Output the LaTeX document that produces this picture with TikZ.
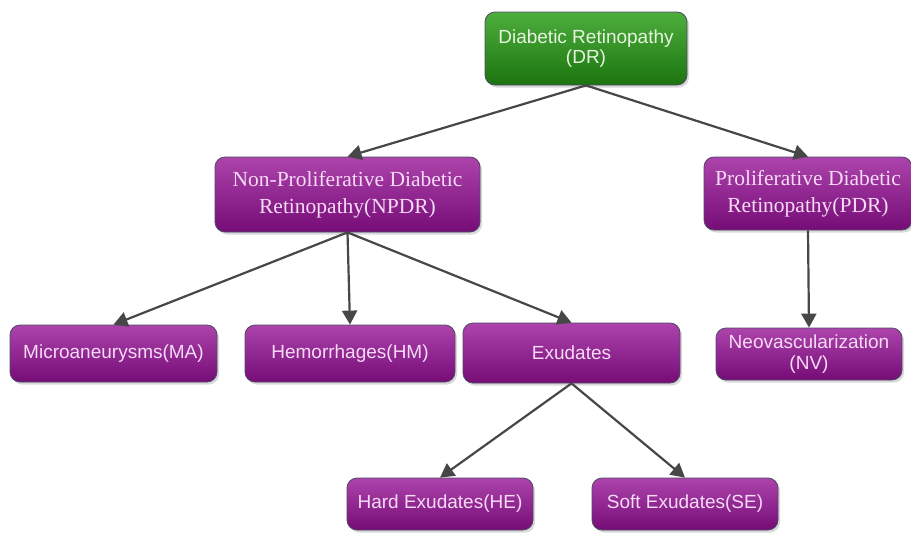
\documentclass[tikz,border=0pt]{standalone}
\usepackage{fontspec}
\setmainfont{Liberation Serif}
\setsansfont{Liberation Sans}
\usepackage{tikz}
\usetikzlibrary{
	arrows.meta,
	shadows
}

\definecolor{greentop}{HTML}{4DAE3C}
\definecolor{greenbot}{HTML}{1C7410}
\definecolor{purpletop}{HTML}{AC44AC}
\definecolor{purplebot}{HTML}{760C76}
\definecolor{pinktext}{HTML}{F6DAF6}
\definecolor{greentext}{HTML}{E6F4E0}
\definecolor{boxline}{HTML}{4E4A66}
\definecolor{linkgray}{HTML}{474747}

\tikzset{
	box/.style={draw=boxline, line width=0.8pt, rounded corners=10pt,
		inner sep=0pt, align=center,
		drop shadow={shadow xshift=2pt, shadow yshift=-2.5pt, opacity=.3}},
	root/.style={box, top color=greentop, bottom color=greenbot, text=greentext,
		font=\sffamily\fontsize{19}{20.5}\selectfont},
	stage/.style={box, top color=purpletop, bottom color=purplebot, text=pinktext,
		font=\rmfamily\fontsize{21.5}{27}\selectfont},
	lesion/.style={box, top color=purpletop, bottom color=purplebot, text=pinktext,
		font=\sffamily\fontsize{19}{21}\selectfont},
	link/.style={draw=linkgray, line width=2.2pt,
		-{Triangle[length=14pt, width=15pt]}}
}

\begin{document}
\begin{tikzpicture}[x=1pt, y=-1pt]
		\useasboundingbox (0,0) rectangle (911,533);
		\draw[every edge/.style={link}]
			node[root, minimum width=202, minimum height=73]   (dr)   at (586,48.5)  {Diabetic Retinopathy\\(DR)}
			node[stage, minimum width=265, minimum height=75]  (npdr) at (347.5,194.5) {Non-Proliferative Diabetic\\Retinopathy(NPDR)}
			node[stage, minimum width=208, minimum height=73]  (pdr)  at (808,193.5) {Proliferative Diabetic\\Retinopathy(PDR)}
			node[lesion, minimum width=207, minimum height=57] (ma)   at (113.5,353.5) {Microaneurysms(MA)}
			node[lesion, minimum width=210, minimum height=57] (hm)   at (350,353.5) {Hemorrhages(HM)}
			node[lesion, minimum width=217, minimum height=60] (ex)   at (571.5,353) {Exudates}
			node[lesion, minimum width=186, minimum height=52] (nv)   at (809,354)   {Neovascularization\\(NV)}
			node[lesion, minimum width=186, minimum height=52] (he)   at (440,504)   {Hard Exudates(HE)}
			node[lesion, minimum width=186, minimum height=52] (se)   at (685,504)   {Soft Exudates(SE)}

			(dr.south)   edge (npdr.north)
			(dr.south)   edge (pdr.north)
			(npdr.south) edge (ma.north)
			(npdr.south) edge (hm.north)
			(npdr.south) edge (ex.north)
			(pdr.south)  edge (nv.north)
			(ex.south)   edge (he.north)
			(ex.south)   edge (se.north)
		;
	\end{tikzpicture}
\end{document}
